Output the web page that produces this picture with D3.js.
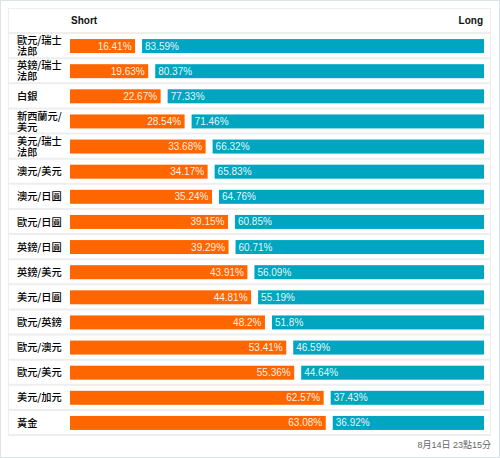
<!DOCTYPE html>
<html><head><meta charset="utf-8">
<script src="https://cdn.jsdelivr.net/npm/d3@7"></script>
<style>html,body{margin:0;padding:0;background:#fff;}svg{display:block;}</style>
</head><body>
<script>
const categories = ["歐元/瑞士法郎","英鎊/瑞士法郎","白銀","新西蘭元/美元","美元/瑞士法郎","澳元/美元","澳元/日圓","歐元/日圓","英鎊/日圓","英鎊/美元","美元/日圓","歐元/英鎊","歐元/澳元","歐元/美元","美元/加元","黃金"];
const shortValues = [16.41,19.63,22.67,28.54,33.68,34.17,35.24,39.15,39.29,43.91,44.81,48.2,53.41,55.36,62.57,63.08];
const longValues = [83.59,80.37,77.33,71.46,66.32,65.83,64.76,60.85,60.71,56.09,55.19,51.8,46.59,44.64,37.43,36.92];
const seriesNames = ["Short","Long"];
const footerText = "8月14日 23點15分";

const W = 500, H = 458;
const svg = d3.select("body").append("svg").attr("width", W).attr("height", H);
svg.append("rect").attr("x",0.5).attr("y",0.5).attr("width",W-1).attr("height",H-1)
  .attr("fill","#fff").attr("stroke","#dde4e8");

const tableL = 8, tableR = 491, headerTop = 8, rowsTop = 33, rowsBottom = 435;
const x = d3.scaleLinear().domain([0,100]).range([70, 478.6]);
const y = d3.scaleBand().domain(categories).range([rowsTop, rowsBottom]).padding(0);

// table frame
svg.append("rect").attr("x",tableL+0.5).attr("y",headerTop+0.5)
  .attr("width",tableR-tableL-1).attr("height",rowsBottom-headerTop).attr("fill","none").attr("stroke","#eeeeee");
// row separators
const seps = [rowsTop].concat(categories.map(c => y(c)+y.bandwidth()));
svg.selectAll("line.sep").data(seps).join("line")
  .attr("x1",tableL).attr("x2",tableR).attr("y1",d=>d).attr("y2",d=>d)
  .attr("stroke","#eeeeee").attr("stroke-width",2);

// header
svg.append("text").attr("x",71).attr("y",24).text(seriesNames[0])
  .attr("font-family","Liberation Sans, Arial, sans-serif").attr("font-weight","bold").attr("font-size",10).attr("fill","#111");
svg.append("text").attr("x",483).attr("y",24).attr("text-anchor","end").text(seriesNames[1])
  .attr("font-family","Liberation Sans, Arial, sans-serif").attr("font-weight","bold").attr("font-size",10).attr("fill","#111");

const rows = svg.selectAll("g.row").data(categories.map((c,i)=>({c, s:shortValues[i], l:longValues[i]})))
  .join("g").attr("class","row");

const barH = 14;
const cy = d => y(d.c) + y.bandwidth()/2 + 0.5;

rows.append("rect").attr("x", x(0)).attr("y", d=>cy(d)-barH/2)
  .attr("width", d=>x(d.s)-x(0)-2).attr("height", barH).attr("fill","#ff6600");
rows.append("rect").attr("x", d=>x(d.s)+5).attr("y", d=>cy(d)-barH/2)
  .attr("width", d=>x(d.s+d.l)+5.4-(x(d.s)+5)).attr("height", barH).attr("fill","#00a6c0");

rows.append("text").attr("x", d=>x(d.s)-2-3.5).attr("y", d=>cy(d)).attr("dy","0.35em")
  .attr("text-anchor","end").text(d=>d.s+"%")
  .attr("font-family","Liberation Sans, Arial, sans-serif").attr("font-size",10).attr("fill","#fff").attr("fill-opacity",0.92);
rows.append("text").attr("x", d=>x(d.s)+5+3).attr("y", d=>cy(d)).attr("dy","0.35em")
  .text(d=>d.l+"%")
  .attr("font-family","Liberation Sans, Arial, sans-serif").attr("font-size",10).attr("fill","#fff").attr("fill-opacity",0.92);

// category labels (wrap after 5 characters)
rows.each(function(d){
  const g = d3.select(this);
  const lines = d.c.length > 5 ? [d.c.slice(0,5), d.c.slice(5)] : [d.c];
  const lh = 11;
  lines.forEach((ln,k)=>{
    g.append("text").attr("x",17)
      .attr("y", cy(d) - (lines.length-1)*lh/2 + k*lh).attr("dy","0.36em").text(ln)
      .attr("font-family","Noto Sans CJK TC, sans-serif").attr("font-size",10.2).attr("font-weight",500).attr("fill","#000");
  });
});

svg.append("text").attr("x",491).attr("y",448).attr("text-anchor","end").text(footerText)
  .attr("font-family","Liberation Sans, Noto Sans CJK TC, sans-serif").attr("font-size",9).attr("fill","#666");
</script>
</body></html>
